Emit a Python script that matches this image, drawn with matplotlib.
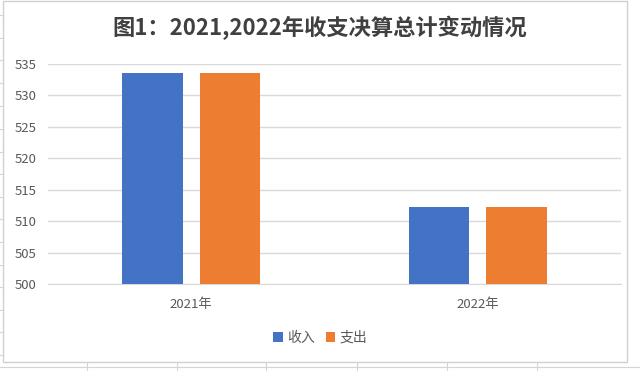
import numpy as np
import matplotlib.pyplot as plt
from matplotlib.lines import Line2D
from matplotlib.patches import Rectangle

plt.rcParams['font.family'] = ['Noto Sans CJK SC', 'DejaVu Sans']

years = ['2021年', '2022年']
income = [533.6, 512.2]
expense = [533.6, 512.2]
series_names = ['收入', '支出']
yticks = [500, 505, 510, 515, 520, 525, 530, 535]

blue = '#4472C4'
orange = '#ED7D31'

fig = plt.figure(figsize=(6.4, 3.71), dpi=100)
W, H = 640, 371

# spreadsheet cell lines around the chart
for x in [87, 177, 266, 357, 447, 537]:
    fig.add_artist(Line2D([x / W, x / W], [0, 1 - 363 / H], color='#d4d4d4', lw=0.8))
for y in [15, 38, 60, 83, 106, 129, 152, 174, 197, 219, 242, 265, 287, 310, 332, 355]:
    fig.add_artist(Line2D([0, 3 / W], [1 - y / H, 1 - y / H], color='#d4d4d4', lw=0.8))
fig.add_artist(Line2D([0, 1], [1 - 367 / H, 1 - 367 / H], color='#d4d4d4', lw=0.8))

# chart area border
fig.add_artist(Rectangle((3 / W, 1 - 362 / H), 624 / W, 361 / H, fill=False,
                         edgecolor='#d0d0d0', lw=1))

ax = fig.add_axes([48 / W, 1 - 284 / H, 573 / W, 220 / H])
x = np.arange(len(years))
w = 0.21
off = 0.135
ax.bar(x - off, income, w, color=blue, label=series_names[0], zorder=3)
ax.bar(x + off, expense, w, color=orange, label=series_names[1], zorder=3)

ax.set_xlim(-0.5, 1.5)
ax.set_ylim(500, 535)
ax.set_yticks(yticks)
ax.set_xticks(x)
ax.set_xticklabels(years)
ax.yaxis.grid(True, color='#d9d9d9', lw=1, zorder=0)
for s in ['top', 'right', 'left']:
    ax.spines[s].set_visible(False)
ax.spines['bottom'].set_color('#d9d9d9')
ax.tick_params(axis='both', length=0, colors='#595959', labelsize=9.5)
ax.tick_params(axis='y', pad=8)
ax.tick_params(axis='x', pad=10)

fig.text(0.5, 1 - 28 / H, '图1：2021,2022年收支决算总计变动情况', ha='center', va='center',
         fontsize=16, fontweight='bold', color='#404040')

fig.legend(loc='center', bbox_to_anchor=(0.5, 1 - 338 / H), ncol=2, frameon=False,
           fontsize=10, handlelength=0.7, handleheight=0.7, handletextpad=0.3,
           columnspacing=0.8, labelcolor='#595959')

fig.savefig('out.png', dpi=100)
